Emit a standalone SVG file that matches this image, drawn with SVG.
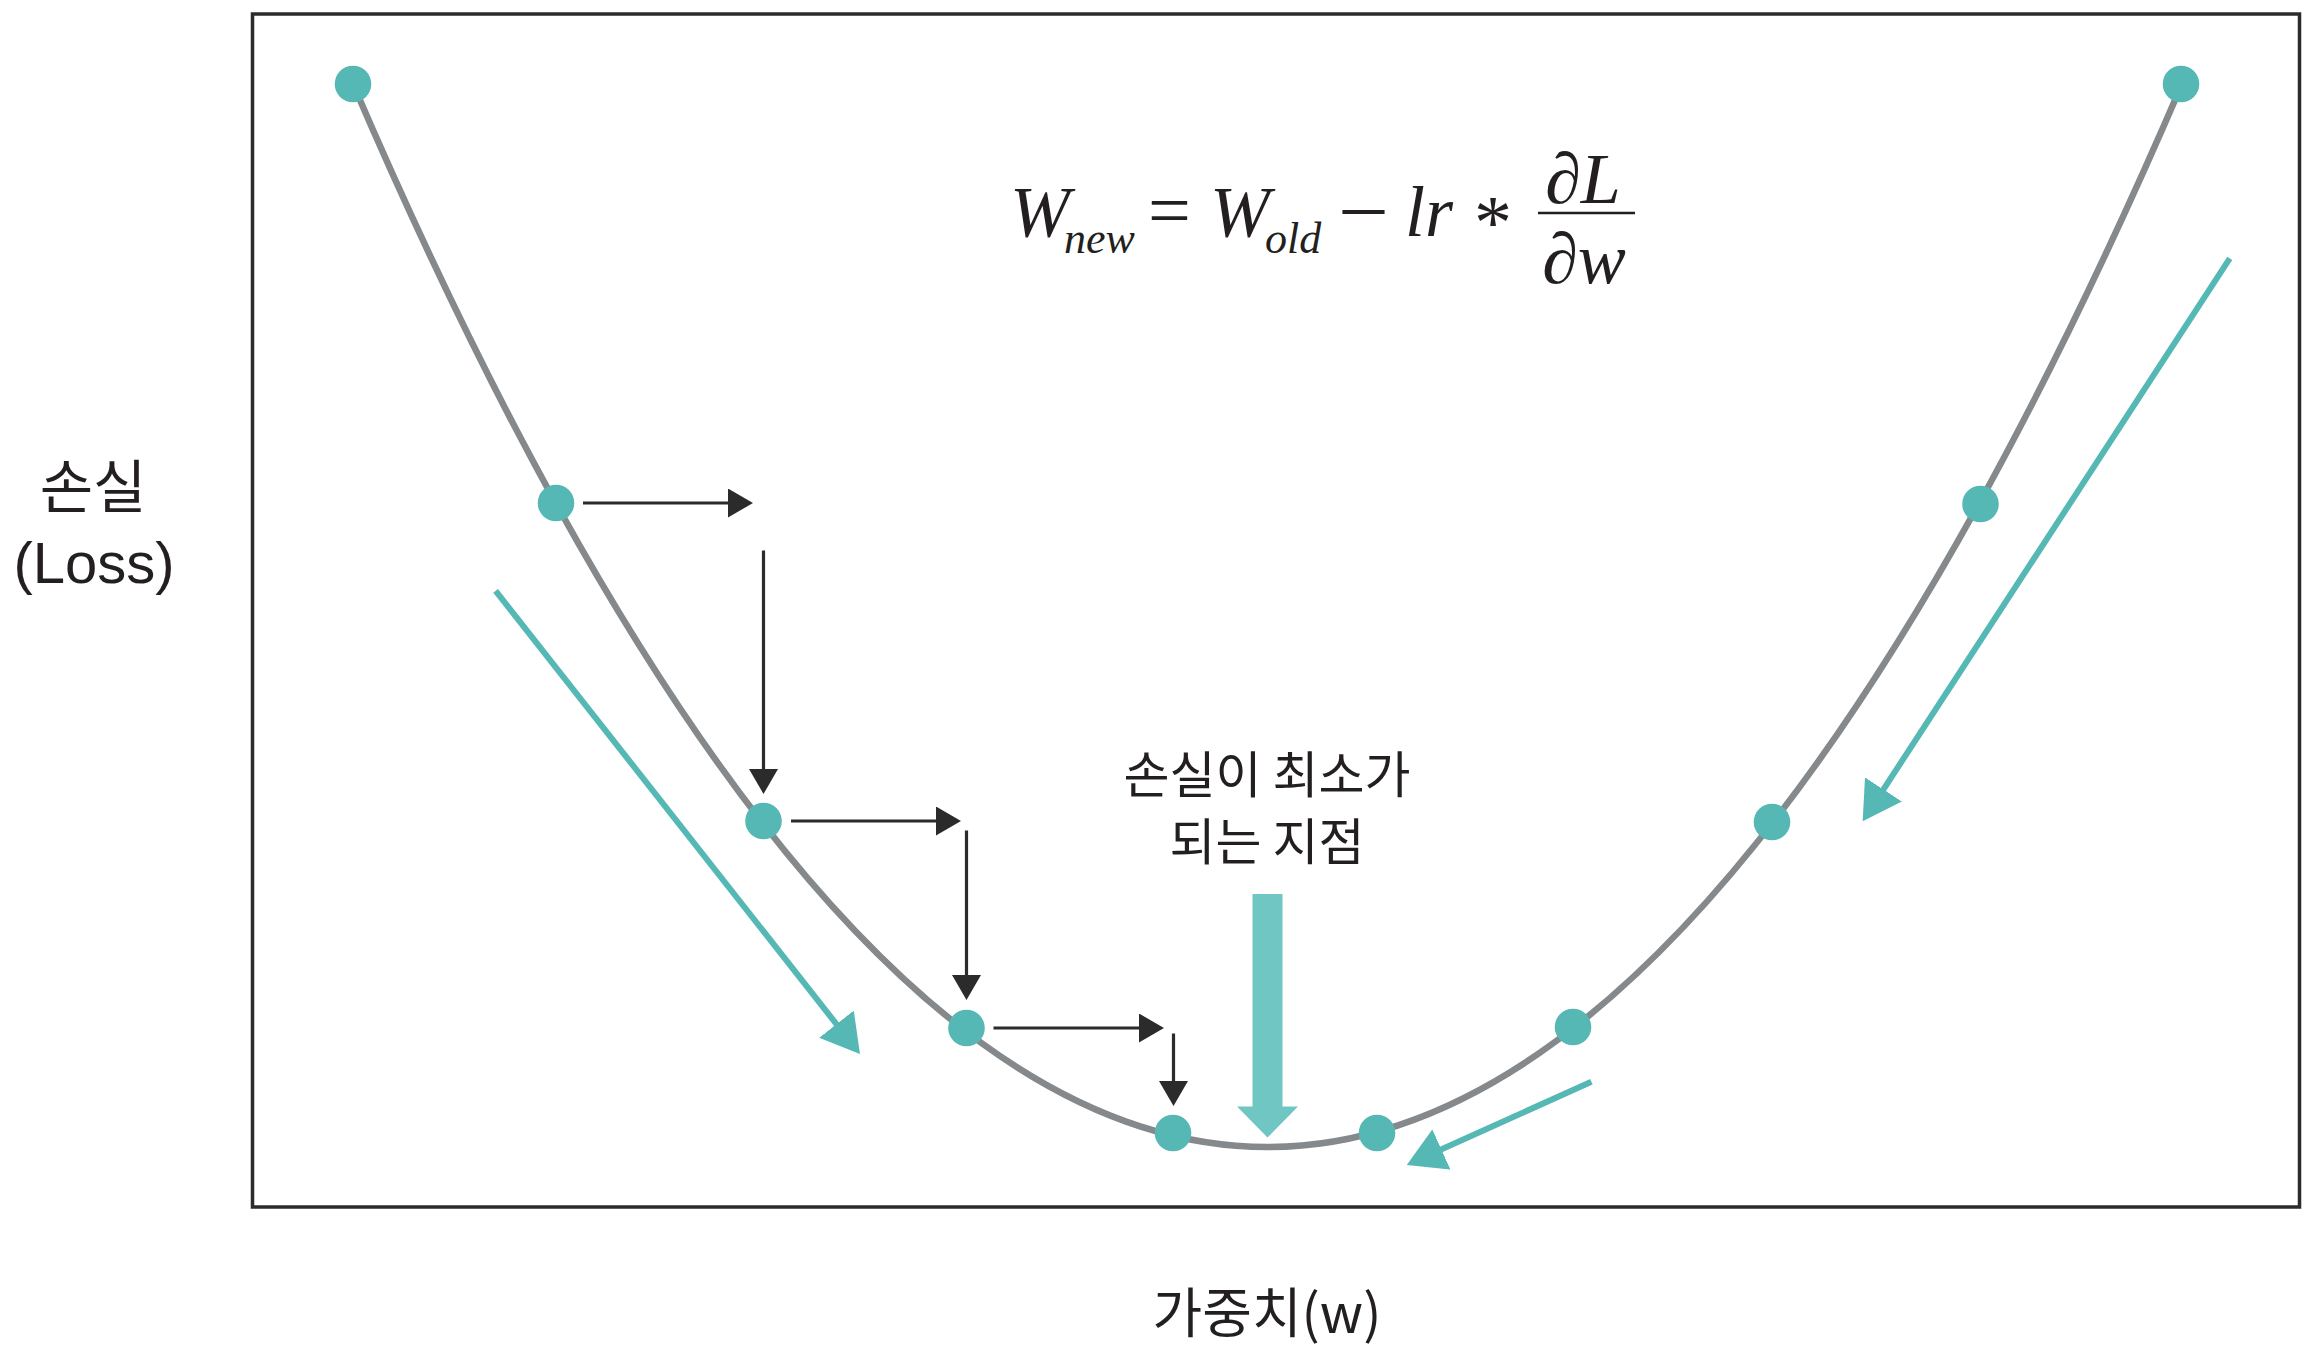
<svg xmlns="http://www.w3.org/2000/svg" width="2322" height="1358" viewBox="0 0 2322 1358">
<defs>
<style>
.frame{fill:none;stroke:#2b2b2b;stroke-width:3.5}
.curve{fill:none;stroke:#85898b;stroke-width:6.5}
.dot{fill:#56b8b4}
.blk{fill:none;stroke:#2b2b2b;stroke-width:3.2}
.teal{fill:none;stroke:#56b8b4;stroke-width:6}
.big{fill:#6fc6c3}
.kr{font-family:"Noto Sans CJK KR","Liberation Sans",sans-serif;fill:#231f20}
.lat{font-family:"Liberation Sans",Arial,sans-serif;fill:#231f20}
.m{font-family:"Liberation Serif","Times New Roman",serif;fill:#231f20;font-size:72px}
.i{font-style:italic}
.sub{font-size:44px}
</style>
<marker id="ah-black" markerUnits="userSpaceOnUse" viewBox="0 0 25 29" markerWidth="25" markerHeight="29" refX="15" refY="14.5" orient="auto">
<path d="M0,0 L25,14.5 L0,29 z" fill="#2b2b2b"/>
</marker>
<marker id="ah-teal" markerUnits="userSpaceOnUse" viewBox="0 0 38 44" markerWidth="38" markerHeight="44" refX="18" refY="22" orient="auto">
<path d="M0,0 L38,22 L0,44 z" fill="#56b8b4"/>
</marker>
</defs>
<rect width="2322" height="1358" fill="#ffffff"/>
<g id="frame">
<rect class="frame" x="252.5" y="14" width="2047" height="1193"/>
</g>
<g id="loss-curve">
<path class="curve" d="M353,84 Q1267.5,2210 2182,84"/>
</g>
<g id="connectors">
<line class="blk" x1="583" y1="503" x2="743" y2="503" marker-end="url(#ah-black)"/>
<line class="blk" x1="763.5" y1="550.5" x2="763.5" y2="784" marker-end="url(#ah-black)"/>
<line class="blk" x1="791" y1="821" x2="951" y2="821" marker-end="url(#ah-black)"/>
<line class="blk" x1="966.5" y1="830.5" x2="966.5" y2="990" marker-end="url(#ah-black)"/>
<line class="blk" x1="993.5" y1="1028" x2="1154" y2="1028" marker-end="url(#ah-black)"/>
<line class="blk" x1="1173.5" y1="1033.5" x2="1173.5" y2="1096" marker-end="url(#ah-black)"/>
<line class="teal" x1="495.6" y1="590.8" x2="847.6" y2="1038.3" marker-end="url(#ah-teal)"/>
<line class="teal" x1="2229.8" y1="258.4" x2="1873.6" y2="804.5" marker-end="url(#ah-teal)"/>
<line class="teal" x1="1591.4" y1="1081.7" x2="1425" y2="1156.8" marker-end="url(#ah-teal)"/>
<polygon id="min-arrow" class="big" points="1252.5,894 1282.5,894 1282.5,1106.5 1298,1106.5 1267.5,1137.5 1237,1106.5 1252.5,1106.5"/>
</g>
<g id="points">
<g id="p1"><circle class="dot" cx="353" cy="84" r="18.3"/></g>
<g id="p2"><circle class="dot" cx="556" cy="503" r="18.3"/></g>
<g id="p3"><circle class="dot" cx="763.5" cy="821" r="18.3"/></g>
<g id="p4"><circle class="dot" cx="966.5" cy="1028" r="18.3"/></g>
<g id="p5"><circle class="dot" cx="1173" cy="1133" r="18.3"/></g>
<g id="p6"><circle class="dot" cx="1377" cy="1133" r="18.3"/></g>
<g id="p7"><circle class="dot" cx="1573" cy="1027" r="18.3"/></g>
<g id="p8"><circle class="dot" cx="1772" cy="822" r="18.3"/></g>
<g id="p9"><circle class="dot" cx="1980.5" cy="504" r="18.3"/></g>
<g id="p10"><circle class="dot" cx="2181" cy="84" r="18.3"/></g>
</g>
<g id="formula">
<text class="m i" x="1010" y="236">W</text>
<text class="m i sub" x="1064" y="253">new</text>
<text class="m" x="1148" y="236" style="font-size:76px">=</text>
<text class="m i" x="1210" y="236">W</text>
<text class="m i sub" x="1265" y="253">old</text>
<text class="m" x="1343" y="231" style="font-size:82px">–</text>
<text class="m i" x="1405" y="236">lr</text>
<text class="m" x="1474" y="248" style="font-size:76px">*</text>
<line x1="1538" y1="213" x2="1635" y2="213" stroke="#231f20" stroke-width="2.5"/>
<text class="m i" x="1583" y="203" text-anchor="middle">∂L</text>
<text class="m i" x="1584" y="283" text-anchor="middle">∂w</text>
</g>
<g id="label-min">
<text class="kr" x="1267" y="793" text-anchor="middle" font-size="50">손실이 최소가</text>
<text class="kr" x="1267" y="860" text-anchor="middle" font-size="50">되는 지점</text>
</g>
<g id="label-y">
<text class="kr" x="93" y="508" text-anchor="middle" font-size="58">손실</text>
<text class="lat" x="94" y="583" text-anchor="middle" font-size="58">(Loss)</text>
</g>
<g id="label-x">
<text class="kr" x="1267" y="1333" text-anchor="middle" font-size="54">가중치(w)</text>
</g>
</svg>
